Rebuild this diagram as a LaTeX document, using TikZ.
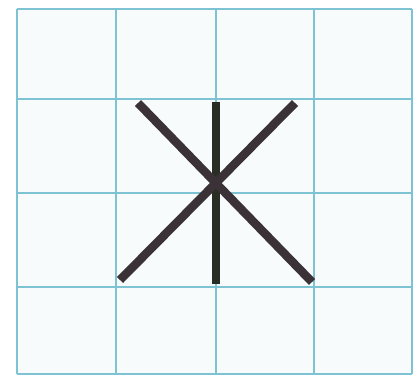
\documentclass[tikz,border=0pt]{standalone}
\usepackage{tikz}
\definecolor{gridblue}{RGB}{125,195,212}
\definecolor{penink}{RGB}{58,50,54}
\definecolor{peninkv}{RGB}{40,46,36}
\tikzset{
  gridline/.style={draw=gridblue, line width=1.6pt},
  stroke/.style={draw=penink, line width=8.5pt, line cap=butt},
  vstroke/.style={draw=peninkv, line width=8.5pt, line cap=butt}
}
\begin{document}
\begin{tikzpicture}[x=1pt,y=-1pt]
\useasboundingbox (0,0) rectangle (416,378);
\fill[white] (0,0) rectangle (416,378);
\fill[gridblue!6] (17,9) rectangle (412,374);
% grid
\foreach \x in {17,116,216,314,412} \draw[gridline] (\x,9) -- (\x,374);
\foreach \y in {9,99,193,287,374} \draw[gridline] (17,\y) -- (412,\y);
% strokes
\coordinate (a1) at (138,103);
\coordinate (a2) at (312,282);
\coordinate (b1) at (295,103);
\coordinate (b2) at (120,280);
\coordinate (c1) at (216,102);
\coordinate (c2) at (216,284);
\draw[vstroke] (c1) -- (c2);
\draw[stroke] (a1) -- (a2);
\draw[stroke] (b1) -- (b2);
\end{tikzpicture}
\end{document}
